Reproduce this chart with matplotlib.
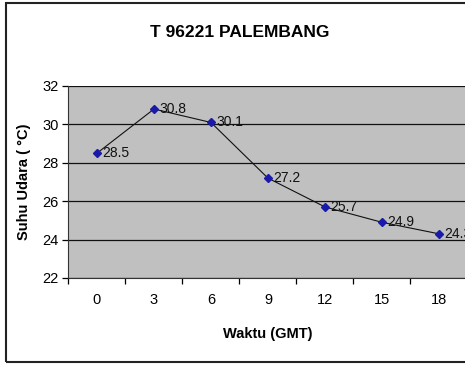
import matplotlib
matplotlib.use("Agg")
import matplotlib.pyplot as plt
import numpy as np

# data suhu udara per jam GMT
waktu = ["0", "3", "6", "9", "12", "15", "18"]
suhu = [28.5, 30.8, 30.1, 27.2, 25.7, 24.9, 24.3]
label_suhu = ["28.5", "30.8", "30.1", "27.2", "25.7", "24.9", "24.3"]

plt.rcParams['font.family'] = ['Liberation Sans Narrow', 'Liberation Sans', 'DejaVu Sans']

fig = plt.figure(figsize=(4.65, 3.65), dpi=100)

# bingkai luar grafik
frame = plt.Rectangle((0.013, 0.008), 1.2, 0.984, transform=fig.transFigure,
                      fill=False, edgecolor='#222222', linewidth=1.5)
fig.patches.append(frame)

ax = fig.add_axes([0.1473, 0.2384, 0.858, 0.526])
ax.set_facecolor('#C0C0C0')

x = np.arange(len(waktu))
ax.plot(x, suhu, color='#111111', linewidth=0.8, marker='D', markersize=4,
        markerfacecolor='#1a1aa8', markeredgecolor='#1a1aa8', clip_on=False, zorder=3)

for xi, yi, lab in zip(x, suhu, label_suhu):
    ax.text(xi + 0.09, yi, lab, fontsize=10, va='center', ha='left', color='#111111')

ax.set_xlim(-0.5, len(waktu) - 0.5)
ax.set_ylim(22, 32)
ax.set_yticks(np.arange(22, 33, 2))
ax.grid(axis='y', color='#111111', linewidth=0.9)
ax.set_axisbelow(True)

ax.set_xticks(x)
ax.set_xticklabels(waktu, fontsize=10.5)
ax.set_xticks(np.arange(-0.5, len(waktu), 1), minor=True)
ax.tick_params(axis='x', which='major', length=0, pad=11)
ax.tick_params(axis='x', which='minor', length=4, width=0.9, direction='out')
ax.tick_params(axis='y', length=4, width=0.9, labelsize=10.5, pad=3)

for s in ['top', 'right']:
    ax.spines[s].set_visible(False)
ax.spines['left'].set_color('#333333')
ax.spines['bottom'].set_color('#333333')

ax.set_xlabel("Waktu (GMT)", fontsize=10.5, fontweight='bold', labelpad=14)
ax.set_ylabel("Suhu Udara ( °C)", fontsize=10.5, fontweight='bold', labelpad=8)
fig.text(0.515, 0.912, "T 96221 PALEMBANG", fontsize=12.5, fontweight='bold',
         ha='center', va='center')

fig.savefig("out.png", dpi=100)
